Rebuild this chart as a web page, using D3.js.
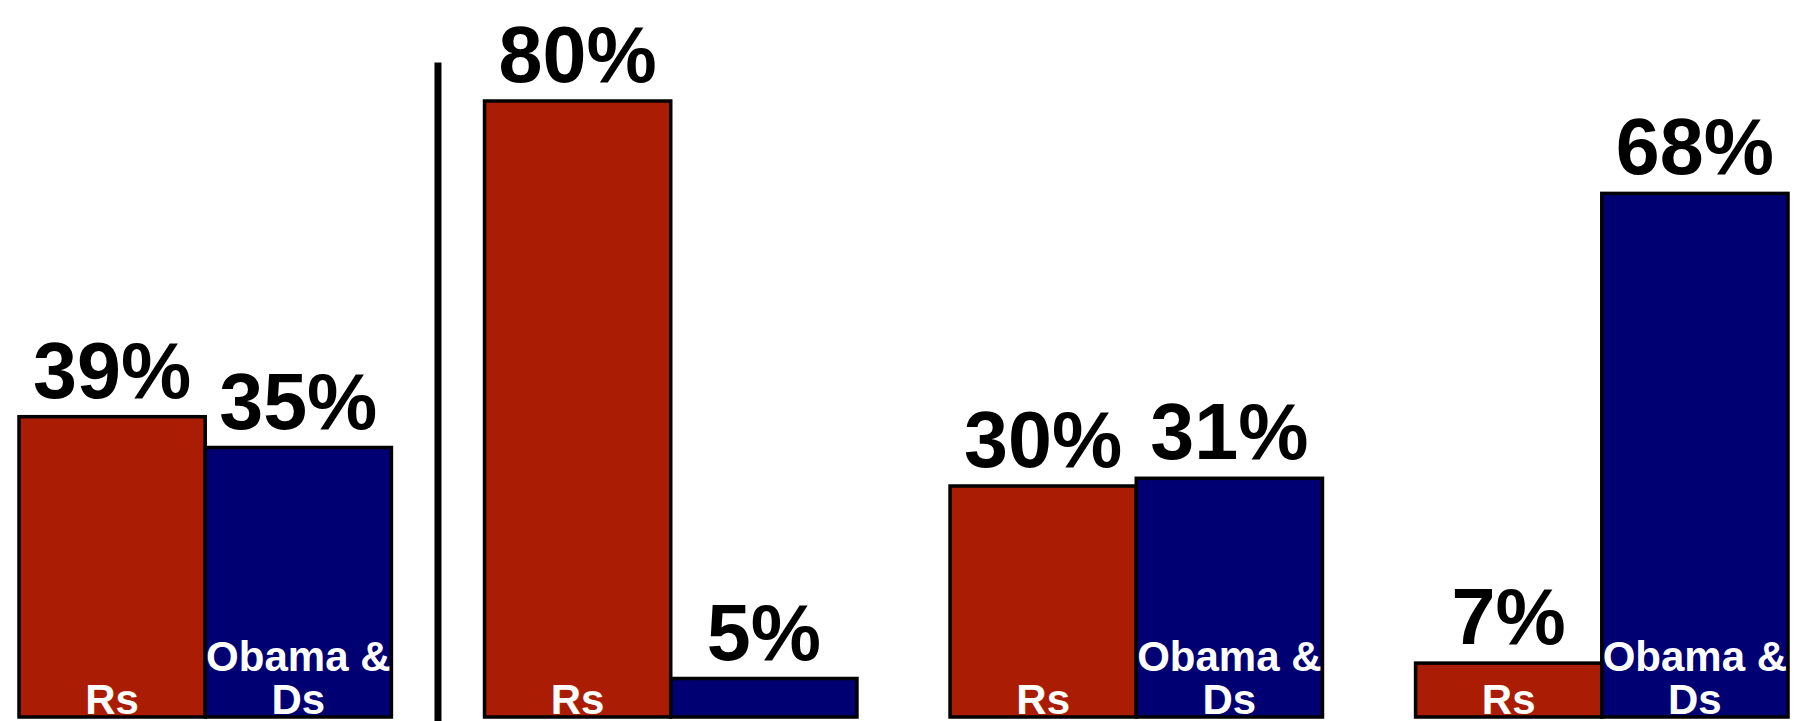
<!DOCTYPE html>
<html>
<head>
<meta charset="utf-8">
<style>
	body { margin: 0; background: #fff; }
	text { font-family: "Liberation Sans", Arial, sans-serif; font-weight: bold; }
</style>
</head>
<body>
<div id="chart"></div>
<script src="https://cdn.jsdelivr.net/npm/d3@7"></script>
<script>
	// groups of bars, left to right
	var groups = ['g1', 'g2', 'g3', 'g4'];
	var seriesKeys = ['Rs', 'Ds'];
	var seriesNames = { Rs: ['Rs'], Ds: ['Obama &', 'Ds'] };
	var rsValues = [39, 80, 30, 7];
	var dsValues = [35, 5, 31, 68];
	var colors = { Rs: '#aa1c03', Ds: '#000073' };

	var data = groups.map((g, i) => ({
		group: g,
		values: [
			{ key: 'Rs', value: rsValues[i] },
			{ key: 'Ds', value: dsValues[i] }
		]
	}));

	var width = 1807, height = 721;
	var base = 717;

	var svg = d3.select('#chart').append('svg')
		.attr('width', width)
		.attr('height', height);

	var x0 = d3.scaleBand()
		.domain(groups)
		.range([19, 1788])
		.paddingInner(0.2)
		.paddingOuter(0);
	var x1 = d3.scaleBand()
		.domain(seriesKeys)
		.range([0, x0.bandwidth()]);
	var y = d3.scaleLinear()
		.domain([0, 80])
		.range([base, 101]);

	// separator between the first group and the rest
	var sepX = (x0(groups[0]) + x0.bandwidth() + x0(groups[1])) / 2;
	svg.append('line')
		.attr('x1', sepX).attr('x2', sepX)
		.attr('y1', y(85)).attr('y2', height)
		.attr('stroke', '#000')
		.attr('stroke-width', 7);

	var g = svg.selectAll('g.group')
		.data(data)
		.enter().append('g')
		.attr('class', 'group')
		.attr('transform', d => 'translate(' + x0(d.group) + ',0)');

	var bars = g.selectAll('g.bar')
		.data(d => d.values)
		.enter().append('g')
		.attr('class', 'bar');

	bars.append('rect')
		.attr('x', d => x1(d.key))
		.attr('y', d => y(d.value))
		.attr('width', x1.bandwidth())
		.attr('height', d => base - y(d.value))
		.attr('fill', d => colors[d.key])
		.attr('stroke', '#000')
		.attr('stroke-width', 3.5);

	// value labels above bars
	bars.append('text')
		.attr('x', d => x1(d.key) + x1.bandwidth() / 2)
		.attr('y', d => y(d.value) - 19)
		.attr('text-anchor', 'middle')
		.attr('font-size', 79)
		.attr('fill', '#000')
		.text(d => d.value + '%');

	// category names inside bars, only where they fit
	var lineH = 43;
	bars.filter(d => base - y(d.value) >= seriesNames[d.key].length * lineH + 8)
		.each(function(d) {
			var lines = seriesNames[d.key];
			var t = d3.select(this).append('text')
				.attr('text-anchor', 'middle')
				.attr('font-size', 42)
				.attr('fill', '#fff');
			lines.forEach((s, i) => {
				t.append('tspan')
					.attr('x', x1(d.key) + x1.bandwidth() / 2)
					.attr('y', base - 3 - (lines.length - 1 - i) * lineH)
					.text(s);
			});
		});
</script>
</body>
</html>
